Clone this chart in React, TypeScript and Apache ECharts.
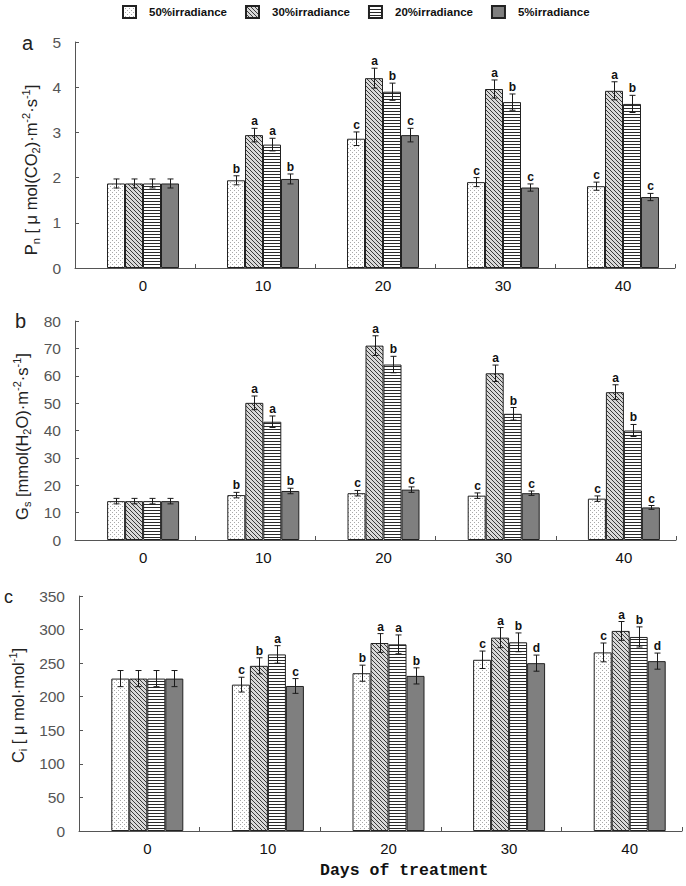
import React, { useEffect, useRef } from 'react';
import * as echarts from 'echarts';

// ---------- data ----------
const days = ['0', '10', '20', '30', '40'];
const seriesNames = ['50%irradiance', '30%irradiance', '20%irradiance', '5%irradiance'];

// Panel a: Pn
const pn50 = [1.87, 1.94, 2.86, 1.9, 1.81];
const pn30 = [1.87, 2.94, 4.2, 3.96, 3.92];
const pn20 = [1.87, 2.73, 3.9, 3.67, 3.63];
const pn5 = [1.87, 1.97, 2.94, 1.78, 1.57];
const pn50Err = [0.1, 0.1, 0.15, 0.1, 0.09];
const pn30Err = [0.1, 0.15, 0.22, 0.2, 0.2];
const pn20Err = [0.1, 0.14, 0.19, 0.18, 0.19];
const pn5Err = [0.1, 0.11, 0.15, 0.08, 0.08];
const pn50Let = ['', 'b', 'c', 'c', 'c'];
const pn30Let = ['', 'a', 'a', 'a', 'a'];
const pn20Let = ['', 'a', 'b', 'b', 'b'];
const pn5Let = ['', 'b', 'c', 'c', 'c'];

// Panel b: Gs
const gs50 = [14.2, 16.4, 17.1, 16.2, 15.1];
const gs30 = [14.2, 50.1, 71.0, 60.9, 54.0];
const gs20 = [14.2, 43.2, 64.1, 46.1, 40.0];
const gs5 = [14.2, 17.9, 18.4, 17.1, 11.9];
const gs50Err = [1, 1, 1, 1, 1];
const gs30Err = [1, 2.5, 3.6, 3, 2.7];
const gs20Err = [1, 2.1, 3, 2.3, 2.2];
const gs5Err = [1, 1, 1, 0.8, 0.7];
const gs50Let = ['', 'b', 'c', 'c', 'c'];
const gs30Let = ['', 'a', 'a', 'a', 'a'];
const gs20Let = ['', 'a', 'b', 'b', 'b'];
const gs5Let = ['', 'b', 'c', 'c', 'c'];

// Panel c: Ci
const ci50 = [227, 218, 235, 255, 266];
const ci30 = [227, 246, 280, 288, 298];
const ci20 = [227, 263, 278, 281, 289];
const ci5 = [227, 216, 231, 250, 253];
const ci50Err = [12, 11, 12, 13, 14];
const ci30Err = [12, 12, 14, 15, 14];
const ci20Err = [12, 13, 14, 14, 15];
const ci5Err = [12, 11, 12, 12, 12];
const ci50Let = ['', 'c', 'b', 'c', 'c'];
const ci30Let = ['', 'b', 'a', 'a', 'a'];
const ci20Let = ['', 'a', 'a', 'b', 'b'];
const ci5Let = ['', 'c', 'b', 'd', 'd'];

const yTicksA = { min: 0, max: 5, interval: 1 };
const yTicksB = { min: 0, max: 80, interval: 10 };
const yTicksC = { min: 0, max: 350, interval: 50 };

// ---------- styling ----------
const FONT = '"Liberation Sans", Arial, sans-serif';
const BAR_W = 18;

function makePattern(kind: string): any {
  const c = document.createElement('canvas');
  let w = 4, h = 4;
  if (kind === 'horiz') { w = 4; h = 3; }
  c.width = w; c.height = h;
  const ctx = c.getContext('2d')!;
  if (kind === 'dots') {
    ctx.fillStyle = '#ffffff'; ctx.fillRect(0, 0, w, h);
    ctx.fillStyle = '#a8a8a8';
    ctx.fillRect(0, 0, 1, 1); ctx.fillRect(2, 2, 1, 1);
  } else if (kind === 'diag') {
    ctx.fillStyle = '#d8d8d8'; ctx.fillRect(0, 0, w, h);
    ctx.fillStyle = '#3a3a3a';
    for (let i = 0; i < 4; i++) ctx.fillRect(i, i, 1, 1);
  } else if (kind === 'horiz') {
    ctx.fillStyle = '#ffffff'; ctx.fillRect(0, 0, w, h);
    ctx.fillStyle = '#2a2a2a'; ctx.fillRect(0, 0, w, 1);
  }
  return { image: c, repeat: 'repeat', imageWidth: w, imageHeight: h };
}

const panels = [
  {
    vals: [pn50, pn30, pn20, pn5], errs: [pn50Err, pn30Err, pn20Err, pn5Err], lets: [pn50Let, pn30Let, pn20Let, pn5Let],
    ticks: yTicksA, top: 42, height: 226, frameLeft: 75, frameWidth: 600, barLeft: 83,
    name: '{a|P}{s|n}{a| [ μ mol(CO}{s|2}{a|)·m}{p|-2}{a|·s}{p|-1}{a|]}', nameGap: 32, namePad: [0, 30, 0, 0],
  },
  {
    vals: [gs50, gs30, gs20, gs5], errs: [gs50Err, gs30Err, gs20Err, gs5Err], lets: [gs50Let, gs30Let, gs20Let, gs5Let],
    ticks: yTicksB, top: 321, height: 219, frameLeft: 75, frameWidth: 601, barLeft: 83,
    name: '{a|G}{s|s}{a| [mmol(H}{s|2}{a|O)·m}{p|-2}{a|·s}{p|-1}{a|]}', nameGap: 42, namePad: [0, 12, 0, 0],
  },
  {
    vals: [ci50, ci30, ci20, ci5], errs: [ci50Err, ci30Err, ci20Err, ci5Err], lets: [ci50Let, ci30Let, ci20Let, ci5Let],
    ticks: yTicksC, top: 596, height: 235, frameLeft: 79, frameWidth: 603, barLeft: 87,
    name: '{a|C}{s|i}{a| [ μ mol·mol}{p|-1}{a|]}', nameGap: 51, namePad: [0, 0, 0, 16],
  },
];

export default function App() {
  const ref = useRef<HTMLDivElement>(null);
  useEffect(() => {
    if (!ref.current) return;
    const chart = echarts.init(ref.current, null, { renderer: 'svg' });
    const fills = [makePattern('dots'), makePattern('diag'), makePattern('horiz'), '#7f7f7f'];

    const grid: any[] = [];
    const xAxis: any[] = [];
    const yAxis: any[] = [];
    const series: any[] = [];

    panels.forEach((p, pi) => {
      const fi = pi * 2;
      const bi = pi * 2 + 1;
      grid.push({ left: p.frameLeft, width: p.frameWidth, top: p.top, height: p.height, outerBoundsMode: 'none', containLabel: false });
      grid.push({ left: p.barLeft, width: p.frameWidth, top: p.top, height: p.height, outerBoundsMode: 'none', containLabel: false });
      xAxis.push({
        type: 'category', gridIndex: fi, data: days, boundaryGap: true,
        axisLine: { show: true, lineStyle: { color: '#555', width: 1 } },
        axisTick: { show: true, inside: true, length: 4, lineStyle: { color: '#555' } },
        axisLabel: { show: false }, splitLine: { show: false },
      });
      xAxis.push({
        type: 'category', gridIndex: bi, data: days, boundaryGap: true,
        axisLine: { show: false }, axisTick: { show: false }, splitLine: { show: false },
        axisLabel: { show: true, margin: 10, fontSize: 15, color: '#111', fontFamily: FONT },
      });
      yAxis.push({
        type: 'value', gridIndex: fi, min: p.ticks.min, max: p.ticks.max, interval: p.ticks.interval,
        axisLine: { show: true, lineStyle: { color: '#555', width: 1 } },
        axisTick: { show: true, inside: true, length: 4, lineStyle: { color: '#555' } },
        axisLabel: { margin: 14, fontSize: 15.5, color: '#555', fontFamily: FONT },
        splitLine: { show: false },
        name: p.name, nameLocation: 'middle', nameRotate: 90, nameGap: p.nameGap,
        nameTextStyle: {
          color: '#222', fontFamily: FONT, fontSize: 16.5, padding: p.namePad,
          rich: {
            a: { fontSize: 16.5, lineHeight: 21, color: '#222', fontFamily: FONT },
            s: { fontSize: 11, lineHeight: 9, verticalAlign: 'bottom', color: '#222', fontFamily: FONT },
            p: { fontSize: 11, lineHeight: 9, verticalAlign: 'top', color: '#222', fontFamily: FONT },
          },
        },
      });
      yAxis.push({ type: 'value', gridIndex: bi, min: p.ticks.min, max: p.ticks.max, interval: p.ticks.interval, show: false });

      p.vals.forEach((vals, j) => {
        series.push({
          type: 'bar', name: seriesNames[j], xAxisIndex: bi, yAxisIndex: bi,
          data: vals, barWidth: BAR_W, barGap: '0%',
          itemStyle: { color: fills[j], borderColor: '#222', borderWidth: 1 },
          z: 2,
        });
      });

      const errData: number[][] = [];
      const letters: string[] = [];
      p.vals.forEach((vals, j) => {
        vals.forEach((v, k) => {
          errData.push([k, v, p.errs[j][k], j]);
          letters.push(p.lets[j][k]);
        });
      });
      series.push({
        type: 'custom', xAxisIndex: bi, yAxisIndex: bi, z: 5, silent: true,
        data: errData,
        encode: { x: 0, y: 1 },
        renderItem: (params: any, api: any) => {
          const cat = api.value(0);
          const v = api.value(1);
          const e = api.value(2);
          const j = api.value(3);
          const c = api.coord([cat, v]);
          const x = Math.round(c[0] + (j - 1.5) * BAR_W) + 0.5;
          const yt = api.coord([cat, v + e])[1];
          const yb = api.coord([cat, v - e])[1];
          const st = { stroke: '#1a1a1a', lineWidth: 1 };
          const children: any[] = [
            { type: 'line', shape: { x1: x, y1: yt, x2: x, y2: yb }, style: st },
            { type: 'line', shape: { x1: x - 3, y1: yt, x2: x + 3, y2: yt }, style: st },
            { type: 'line', shape: { x1: x - 3, y1: yb, x2: x + 3, y2: yb }, style: st },
          ];
          const letter = letters[params.dataIndex];
          if (letter) {
            children.push({
              type: 'text', x: x, y: yt - 1,
              style: { text: letter, fill: '#111', font: 'bold 12px ' + FONT, textAlign: 'center', textVerticalAlign: 'bottom' },
            });
          }
          return { type: 'group', children };
        },
      });
    });

    chart.setOption({
      animation: false,
      backgroundColor: '#ffffff',
      legend: {
        data: seriesNames, left: 117, top: 0, icon: 'rect', itemWidth: 13, itemHeight: 12, itemGap: 18,
        selectedMode: false,
        textStyle: { fontWeight: 'bold', fontSize: 11.5, fontFamily: FONT, color: '#111', padding: [0, 0, 0, 8] },
      },
      grid, xAxis, yAxis, series,
      graphic: [
        { type: 'text', left: 22, top: 33, style: { text: 'a', font: '20px ' + FONT, fill: '#222' } },
        { type: 'text', left: 15, top: 311, style: { text: 'b', font: '20px ' + FONT, fill: '#222' } },
        { type: 'text', left: 4, top: 588, style: { text: 'c', font: '18px ' + FONT, fill: '#222' } },
        {
          type: 'text', left: 320, top: 862,
          style: { text: 'Days of treatment', font: 'bold 16.5px "Liberation Mono", "Courier New", monospace', fill: '#111' },
        },
      ],
    });
    return () => chart.dispose();
  }, []);
  return <div ref={ref} style={{ position: 'absolute', left: 0, top: 0, width: 686, height: 886, background: '#fff' }} />;
}
